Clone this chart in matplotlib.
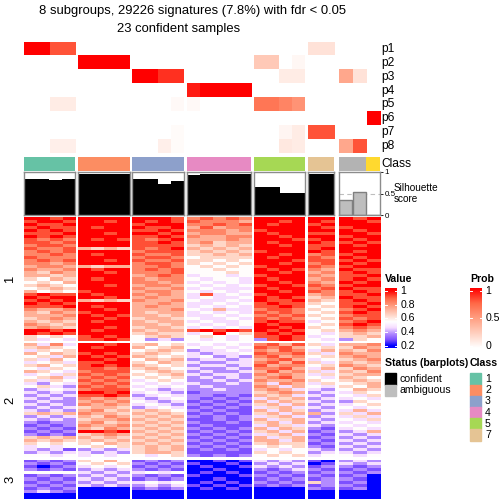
import numpy as np
import matplotlib
matplotlib.use("Agg")
import matplotlib.pyplot as plt
from matplotlib.colors import LinearSegmentedColormap, Normalize
from matplotlib.patches import Rectangle

plt.rcParams['font.family'] = ['Liberation Sans', 'DejaVu Sans']

W = H = 504

# ---- data ----
group_sizes = [4, 4, 4, 5, 4, 2, 3]
group_x = [(23.5, 75), (78, 130), (132.3, 184), (186.7, 251), (254, 305), (307.7, 334), (339, 380)]

col_class = ["1"] * 4 + ["2"] * 4 + ["3"] * 4 + ["4"] * 5 + ["5"] * 4 + ["7"] * 2 + ["amb", "amb", "6"]
silhouette = [0.84, 0.84, 0.81, 0.84,
              0.96, 0.96, 0.96, 0.96,
              0.84, 0.84, 0.72, 0.79,
              0.93, 0.96, 0.96, 0.96, 0.96,
              0.65, 0.65, 0.51, 0.51,
              0.95, 0.95,
              0.35, 0.54, 0.0]
confident = [True] * 23 + [False] * 3

prob_names = ["p1", "p2", "p3", "p4", "p5", "p6", "p7", "p8"]
p1 = [1, 1, .8, .8, 0, 0, 0, 0, 0, 0, 0, 0, 0, 0, 0, 0, 0, 0, 0, 0, 0, .15, .15, 0, 0, 0]
p2 = [0, 0, 0, 0, 1, 1, 1, 1, 0, 0, 0, 0, 0, 0, 0, 0, 0, .28, .28, 0, .04, 0, 0, 0, 0, 0]
p3 = [0, 0, 0, 0, 0, 0, 0, 0, 1, 1, .88, .88, 0, 0, 0, 0, 0, 0, 0, .1, .1, 0, 0, .45, .15, 0]
p4 = [0, 0, 0, 0, 0, 0, 0, 0, 0, 0, 0, 0, .93, 1, 1, 1, 1, 0, 0, 0, 0, 0, 0, 0, 0, 0]
p5 = [0, 0, .1, .1, 0, 0, 0, 0, 0, 0, 0, .03, .03, 0, 0, 0, 0, .68, .68, .62, .55, 0, 0, 0, 0, 0]
p6 = [0, 0, 0, 0, 0, 0, 0, 0, 0, 0, 0, 0, 0, 0, 0, 0, 0, 0, 0, 0, 0, 0, 0, 0, 0, 1]
p7 = [0, 0, 0, 0, 0, 0, 0, 0, 0, 0, 0, .02, 0, 0, 0, 0, 0, 0, 0, .05, .1, .8, .8, 0, 0, 0]
p8 = [0, 0, .08, .08, 0, 0, 0, 0, 0, 0, .08, .02, 0, 0, 0, 0, 0, 0, 0, .12, .1, 0, 0, .45, .8, 0]

class_colors = {"1": "#66C2A5", "2": "#FC8D62", "3": "#8DA0CB", "4": "#E78AC3",
                "5": "#A6D854", "7": "#E5C494", "6": "#FFD92F", "amb": "#B3B3B3"}

# heatmap rows, one digit per sample (0 -> 0.2 ... 9 -> 1.0), groups separated by spaces
rows_c1 = [
    "9989 9999 9998 78787 9999 99 989",
    "8998 9989 9898 87776 9989 98 998",
    "9889 9999 8999 77878 9899 89 999",
    "8988 9899 9889 68677 9999 98 899",
    "9898 9999 8898 77767 8999 99 989",
    "8889 9989 9989 67766 9899 88 998",
    "9898 9999 8898 76677 9989 99 899",
    "8787 9898 8789 66676 9998 89 989",
    "8878 9999 8898 67566 9899 98 898",
    "7887 9999 8888 56565 9989 88 989",
    "8778 6565 8789 65656 9999 89 999",
    "7878 9999 7888 56565 8999 98 989",
    "7787 9899 8778 55656 9989 78 899",
    "8777 9999 7887 45555 9899 87 989",
    "7878 9989 8778 55454 9998 88 898",
    "7767 9999 7887 54545 9989 78 989",
    "6776 6566 7787 45454 8999 87 899",
    "7667 9899 7878 44544 9898 76 988",
    "6576 9989 7778 44454 9989 67 898",
    "6656 9999 6787 34434 8999 76 889",
    "5465 9899 7677 43443 9899 67 898",
    "4546 9999 7767 34343 9989 76 989",
    "5654 9989 6776 43434 8998 87 899",
    "4565 9999 7667 34333 9899 78 988",
    "6454 8999 6776 43434 9989 87 898",
    "8988 9899 7676 38343 8999 67 889",
    "9899 9989 6766 34334 9898 56 988",
    "8989 6565 7667 43343 9889 65 898",
    "9898 9999 6676 33434 8988 54 889",
    "8889 9899 6766 34343 8898 45 898",
    "7667 9989 6667 43633 7887 54 789",
    "6576 8999 6566 34343 8787 45 898",
    "6667 9898 6656 33434 7878 54 788",
    "5676 9989 5665 43343 8787 45 878",
    "6565 9899 6566 34334 8988 34 789",
    "7656 9999 6656 43434 9899 45 898",
    "6765 9989 5665 34343 9989 54 787",
    "9989 9899 6566 89898 9898 45 676",
    "9898 9999 5655 34945 8989 43 565",
    "5454 8989 4565 45434 8898 34 556",
    "5343 8898 4232 43434 2898 43 254",
]
rows_c2 = [
    "6373 9989 5645 34343 7868 53 667",
    "5654 9899 6456 43434 8786 45 576",
    "3545 9999 4565 23343 7687 36 657",
    "6465 8989 5654 32334 8778 53 766",
    "4536 9898 6545 34232 7867 45 676",
    "5364 9989 4656 23323 6786 34 567",
    "3453 8899 5465 32233 7868 53 656",
    "5645 8989 6545 23323 8677 45 765",
    "4354 8878 5654 32232 7786 36 576",
    "6543 7888 4565 23223 6867 53 657",
    "3435 8787 5456 32332 7676 35 566",
    "4563 7878 4545 23232 6786 43 654",
    "5354 8787 3454 22323 7667 54 565",
    "3243 7878 4343 32232 6376 35 456",
    "4532 8787 3434 23222 7636 43 546",
    "2343 7888 4323 22322 6763 32 465",
    "3232 9989 3432 12222 5676 23 354",
    "2323 8898 2343 22121 6563 32 435",
    "3232 7676 3234 21212 3656 23 343",
    "2322 6767 4323 12121 6365 32 254",
    "3232 7676 3432 21212 5636 23 345",
    "2323 5665 2343 12121 3563 32 434",
    "3232 6756 5654 21211 6365 23 363",
    "5656 7665 6565 12121 5636 62 536",
    "2323 6576 5656 21212 3563 23 353",
    "3232 5667 6565 11212 6356 32 435",
    "2122 6756 5656 21121 5636 23 343",
    "1212 7667 6565 12111 3653 32 434",
    "2121 6576 5656 21212 6365 21 343",
    "1212 9989 6565 12121 5636 12 236",
    "2121 5676 5656 21212 3563 21 323",
    "5656 6565 6565 12121 6356 12 232",
    "6565 5656 5656 21212 6636 21 323",
    "5454 5465 6565 12121 5655 12 232",
    "3434 4545 5656 21212 4545 21 323",
    "3231 2323 5656 12121 3434 32 232",
    "2323 3232 5665 11111 5454 23 323",
    "4434 3434 4345 21212 4545 34 434",
]
rows_c3 = [
    "1212 5464 1212 00101 3232 10 232",
    "2121 4545 2121 10010 2323 01 323",
    "1012 3434 1212 01001 3232 12 212",
    "2121 2323 2121 00100 2123 21 121",
    "4444 3232 3434 01010 1212 12 212",
    "1212 2323 2121 10001 2121 21 120",
    "2121 3232 1212 00100 1212 12 210",
    "1212 2323 3434 01010 2121 52 120",
    "2121 3232 2323 10101 1212 12 210",
    "1212 0000 1212 01010 0000 21 120",
    "2321 0000 0000 00000 0000 00 000",
    "0000 0000 0000 00000 0000 00 000",
    "0000 0000 0000 00000 0000 00 000",
]
cluster_y = [(217.3, 340.7), (343.3, 457.3), (459.7, 499)]


def parse(rows):
    return np.array([[0.2 + int(ch) * 0.8 / 9 for ch in r.replace(" ", "")] for r in rows])


clusters = [parse(rows_c1), parse(rows_c2), parse(rows_c3)]
prob = np.array([p1, p2, p3, p4, p5, p6, p7, p8])

val_cmap = LinearSegmentedColormap.from_list("val", [
    (0, "#0000FF"), (0.109, "#7D50FF"), (0.219, "#B38BFF"), (0.328, "#F6DDFF"),
    (0.4375, "#FFFFFF"), (0.578, "#FFCFBE"), (0.719, "#FF9E81"), (0.859, "#FF6846"),
    (1, "#FF0000")])
prob_cmap = LinearSegmentedColormap.from_list("prob", [
    (0, "#FFFFFF"), (0.25, "#FFCFBE"), (0.5, "#FF9E81"), (0.75, "#FF6846"), (1, "#FF0000")])
val_norm = Normalize(0.2, 1.0)

fig = plt.figure(figsize=(5.04, 5.04), dpi=100)


def fs(px):
    return px * 72 / 100


def px_axes(x0, y0, x1, y1):
    return fig.add_axes([x0 / W, 1 - y1 / H, (x1 - x0) / W, (y1 - y0) / H])


# overlay in pixel coordinates for texts and legend keys
ov = fig.add_axes([0, 0, 1, 1], zorder=-1)
ov.set_xlim(0, W)
ov.set_ylim(H, 0)
ov.axis("off")

starts = np.cumsum([0] + group_sizes)

for g, (x0, x1) in enumerate(group_x):
    c0, c1 = starts[g], starts[g + 1]
    n = c1 - c0

    # membership probabilities
    ax = px_axes(x0, 41.7, x1, 153.3)
    ax.imshow(prob[:, c0:c1], cmap=prob_cmap, vmin=0, vmax=1, aspect="auto", interpolation="nearest")
    ax.axis("off")

    # class bar
    ax = px_axes(x0, 156.7, x1, 171)
    ax.bar(np.arange(n), 1, width=1, color=[class_colors[c] for c in col_class[c0:c1]])
    ax.set_xlim(-0.5, n - 0.5)
    ax.set_ylim(0, 1)
    ax.axis("off")

    # silhouette barplot
    ax = px_axes(x0, 172, x1, 215)
    ax.axhline(0.5, color="#BEBEBE", ls=(0, (4, 3)), lw=0.8, zorder=1)
    for i in range(n):
        k = c0 + i
        if confident[k]:
            ax.bar(i, silhouette[k], width=1, color="black", zorder=2)
        else:
            ax.bar(i, silhouette[k], width=0.94, color="#BEBEBE", edgecolor="#7F7F7F", lw=1, zorder=2)
    ax.set_xlim(-0.5, n - 0.5)
    ax.set_ylim(0, 1)
    ax.set_xticks([])
    for sp in ax.spines.values():
        sp.set_color("#8C8C8C")
        sp.set_linewidth(1)
    if g == len(group_x) - 1:
        ax.yaxis.tick_right()
        ax.set_yticks([0, 0.5, 1])
        ax.set_yticklabels(["0", "0.5", "1"], fontsize=fs(8))
        ax.tick_params(axis="y", length=2.5, width=0.6, pad=1)
    else:
        ax.set_yticks([])

    # main heatmap slices
    for ci, (y0, y1) in enumerate(cluster_y):
        ax = px_axes(x0, y0, x1, y1)
        ax.imshow(clusters[ci][:, c0:c1], cmap=val_cmap, norm=val_norm, aspect="auto",
                  interpolation="nearest")
        ax.axis("off")

# titles
ov.text(192.5, 11, "8 subgroups, 29226 signatures (7.8%) with fdr < 0.05", ha="center", va="center",
        fontsize=fs(13))
ov.text(178.5, 29.3, "23 confident samples", ha="center", va="center", fontsize=fs(13))

# annotation names
for i, name in enumerate(prob_names):
    ov.text(381, 41.7 + 13.95 * (i + 0.5), name, ha="left", va="center", fontsize=fs(12))
ov.text(381, 163.7, "Class", ha="left", va="center", fontsize=fs(12))
ov.text(394, 188.3, "Silhouette", ha="left", va="center", fontsize=fs(10))
ov.text(394, 199.3, "score", ha="left", va="center", fontsize=fs(10))

# row split labels
for (y0, y1), lab in zip(cluster_y, ["1", "2", "3"]):
    ov.text(10, (y0 + y1) / 2, lab, rotation=90, ha="center", va="center", fontsize=fs(13))

# legends
ov.text(385, 279.3, "Value", ha="left", va="center", fontsize=fs(10.5), fontweight="bold")
ov.text(470, 279.3, "Prob", ha="left", va="center", fontsize=fs(10.5), fontweight="bold")

ax = px_axes(385, 288.3, 397, 348.3)
grad = np.linspace(0.17, 1.035, 200).reshape(-1, 1)
ax.imshow(grad, cmap=val_cmap, norm=val_norm, aspect="auto", origin="lower", extent=(0, 1, 0.17, 1.035))
ax.set_xlim(0, 1)
ax.set_ylim(0.17, 1.035)
ax.axis("off")
for v in [0.2, 0.4, 0.6, 0.8, 1.0]:
    ax.plot([0, 0.2], [v, v], color="white", lw=0.7)
    ax.plot([0.8, 1], [v, v], color="white", lw=0.7)
    ax.text(1.3, v, f"{v:g}", transform=ax.get_yaxis_transform(), ha="left", va="center", fontsize=fs(10.5))

ax = px_axes(470, 288.3, 482, 348.3)
grad = np.linspace(0, 1, 200).reshape(-1, 1)
ax.imshow(grad, cmap=prob_cmap, vmin=0, vmax=1, aspect="auto", origin="lower", extent=(0, 1, -0.04, 1.043))
ax.set_xlim(0, 1)
ax.set_ylim(-0.04, 1.043)
ax.axis("off")
for v in [0, 0.5, 1.0]:
    ax.plot([0, 0.2], [v, v], color="white", lw=0.7)
    ax.plot([0.8, 1], [v, v], color="white", lw=0.7)
    ax.text(1.3, v, f"{v:g}", transform=ax.get_yaxis_transform(), ha="left", va="center", fontsize=fs(10.5))

ov.text(385, 363.3, "Status (barplots)", ha="left", va="center", fontsize=fs(10.5), fontweight="bold")
status_labels = ["confident", "ambiguous"]
status_colors = ["black", "#BEBEBE"]
for i, (lab, col) in enumerate(zip(status_labels, status_colors)):
    ov.add_patch(Rectangle((385, 373.3 + 11.2 * i), 11, 11.2, color=col))
    ov.text(400, 373.3 + 11.2 * (i + 0.5), lab, ha="left", va="center", fontsize=fs(10.5))

ov.text(470, 363.3, "Class", ha="left", va="center", fontsize=fs(10.5), fontweight="bold")
legend_classes = ["1", "2", "3", "4", "5", "7"]
for i, lab in enumerate(legend_classes):
    ov.add_patch(Rectangle((470, 373.3 + 11.2 * i), 11, 11.2, color=class_colors[lab]))
    ov.text(485, 373.3 + 11.2 * (i + 0.5), lab, ha="left", va="center", fontsize=fs(10.5))

fig.savefig("out.png", dpi=100)
